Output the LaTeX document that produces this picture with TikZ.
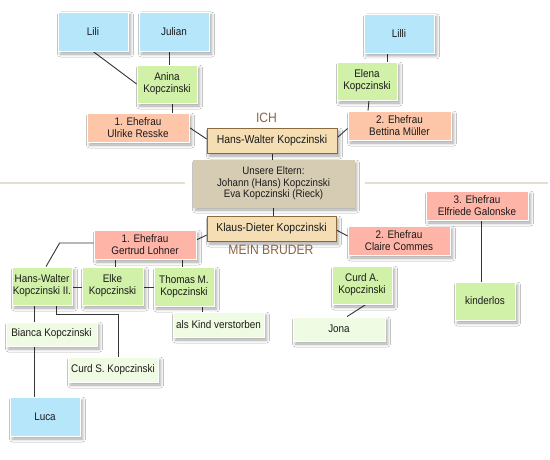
\documentclass[tikz,border=0pt]{standalone}
\usepackage{fontspec}
\setmainfont{Liberation Sans}[FakeStretch=0.9]
\usetikzlibrary{shadows.blur,calc}
\definecolor{kidblue}{HTML}{B5E6FA}
\definecolor{kidgreen}{HTML}{D1F0A8}
\definecolor{palegreen}{HTML}{F0FBE3}
\definecolor{wifea}{HTML}{FDC6A8}
\definecolor{wifeb}{HTML}{FFB4A8}
\definecolor{wheatc}{HTML}{F5DEB3}
\definecolor{wheatb}{HTML}{8B6B3D}
\definecolor{parentc}{HTML}{D6CCB4}
\definecolor{lblc}{HTML}{8B6446}
\definecolor{sepc}{HTML}{E4DED2}
\definecolor{txt}{HTML}{1A1A1A}
\definecolor{linec}{HTML}{353535}
\pgfdeclarelayer{background}
\pgfsetlayers{background,main}
\tikzset{
  sz/.style 2 args={minimum width=#1pt, minimum height=#2pt},
  box/.style={draw=white, line width=0.8pt, inner sep=0pt, align=center, text=txt,
    font=\fontsize{11}{11.8}\selectfont,
    blur shadow={shadow xshift=2.5pt, shadow yshift=-3pt, shadow blur radius=3pt, shadow opacity=35}},
  kid/.style={box, fill=kidblue},
  child/.style={box, fill=kidgreen},
  grand/.style={box, fill=palegreen},
  wifeA/.style={box, fill=wifea},
  wifeB/.style={box, fill=wifeb},
  me/.style={box, fill=wheatc, draw=wheatb, font=\fontsize{11.6}{12.5}\selectfont},
  parents/.style={box, fill=parentc, draw=parentc, font=\fontsize{10.8}{11.4}\selectfont},
  lbl/.style={inner sep=0pt, text=lblc, font=\fontsize{13.5}{13.5}\selectfont},
  conn/.style={draw=linec, line width=0.9pt},
  sepline/.style={draw=sepc, line width=2pt}
}
\begin{document}
\begin{tikzpicture}[x=1pt,y=-1pt]
\useasboundingbox (0,0) rectangle (550,460);
% top left
\node[kid, sz={70}{39}] (lili) at (93,31.5) {Lili};
\node[kid, sz={70}{39}] (julian) at (174,31.5) {Julian};
\node[child, sz={60}{38}] (anina) at (167,84) {Anina\\Kopczinski};
\node[wifeA, sz={102}{29}] (ulrike) at (138,127.5) {1. Ehefrau\\Ulrike Resske};
% top right
\node[kid, sz={70}{39}] (lilli) at (399,33.5) {Lilli};
\node[child, sz={60}{38}] (elena) at (367,81) {Elena\\Kopczinski};
\node[wifeA, sz={103}{29}] (bettina) at (399.5,125.5) {2. Ehefrau\\Bettina Müller};
% center
\node[lbl] (ich) at (266.5,117.7) {ICH};
\node[me, sz={130}{25}] (hw) at (272,140.5) {Hans-Walter Kopczinski};
\node[parents, sz={161}{47}] (eltern) at (273.5,183.5) {Unsere Eltern:\\Johann (Hans) Kopczinski\\Eva Kopczinski (Rieck)};
\node[me, sz={129}{25}] (klaus) at (271.5,228.5) {Klaus-Dieter Kopczinski};
\node[lbl] (bruder) at (271,250.3) {MEIN BRUDER};
% bottom left
\node[wifeB, sz={102}{29}] (gertrud) at (145,244.5) {1. Ehefrau\\Gertrud Lohner};
\node[child, sz={60}{38}] (hw2) at (42,286) {Hans-Walter\\Kopczinski II.};
\node[child, sz={61}{38}] (elke) at (112.5,286) {Elke\\Kopczinski};
\node[child, sz={60}{39}] (thomas) at (184,286.5) {Thomas M.\\Kopczinski};
\node[grand, sz={91}{24}] (bianca) at (51.5,334) {Bianca Kopczinski};
\node[grand, sz={90}{25}] (curds) at (113,369.5) {Curd S. Kopczinski};
\node[grand, sz={91}{25}] (alskind) at (218.5,324.5) {als Kind verstorben};
\node[kid, sz={70}{39}] (luca) at (45,416.5) {Luca};
% bottom right
\node[wifeB, sz={102}{29}] (claire) at (399,240.5) {2. Ehefrau\\Claire Commes};
\node[wifeB, sz={102}{29}] (elfriede) at (477,205.5) {3. Ehefrau\\Elfriede Galonske};
\node[child, sz={60}{38}] (curda) at (362,285) {Curd A.\\Kopczinski};
\node[child, sz={60}{38}] (kinderlos) at (485,301) {kinderlos};
\node[grand, sz={92}{24}] (jona) at (339,329) {Jona};
\begin{pgfonlayer}{background}
  \fill[white] (0,0) rectangle (550,460);
  \path[sepline] (0,183) -- (185,183);
  \path[sepline] (365,183) -- (548,183);
  \path[conn] (lili.south) -- (anina.west);
  \path[conn] ([xshift=2pt]anina.north) -- ([xshift=2pt]anina.north |- julian.south);
  \path[conn] ([xshift=5pt]anina.south) -- ([xshift=5pt]anina.south |- ulrike.north);
  \path[conn] (ulrike.east) -- ([yshift=1.5pt]hw.west);
  \path[conn] ([xshift=-12pt]lilli.south) -- ([xshift=-12pt]lilli.south |- elena.north);
  \path[conn] ([xshift=2pt]elena.south) -- ([xshift=1pt]elena.south |- bettina.north);
  \path[conn] ([yshift=3pt]hw.east) -- ([yshift=-3pt]bettina.west);
  \path[conn] (hw.south) -- (hw.south |- eltern.north);
  \path[conn] (eltern.south) -- (eltern.south |- klaus.north);
  \path[conn] ([yshift=-6.5pt]klaus.west) -- ([yshift=4.5pt]gertrud.east);
  \path[conn] ([yshift=-1.5pt]klaus.east) -- ([yshift=4.5pt]claire.west);
  \path[conn] ([yshift=1.5pt]gertrud.west) -- ++(-34,0) -- ([xshift=4pt]hw2.north);
  \path[conn] ([xshift=-30pt]gertrud.south) -- ([xshift=-30pt]gertrud.south |- elke.north);
  \path[conn] ([xshift=37pt]gertrud.south) -- ([xshift=37pt]gertrud.south |- thomas.north);
  \path[conn] ([yshift=-1pt]hw2.east) -- ([yshift=-1pt]elke.west);
  \path[conn] ([yshift=-1pt]elke.east) -- ([yshift=-1pt]elke.east -| thomas.west);
  \path[conn] ([xshift=-8pt]hw2.south) -- ([xshift=-8pt]hw2.south |- bianca.north);
  \path[conn] ([xshift=14pt]hw2.south) -- ++(0,9) -| ([xshift=5pt]curds.north);
  \path[conn] ([xshift=18pt]thomas.south) -- ([xshift=18pt]thomas.south |- alskind.north);
  \path[conn] ([xshift=-17.5pt]bianca.south) -- ([xshift=-17.5pt]bianca.south |- luca.north);
  \path[conn] ([xshift=4pt]curda.south) -- ([xshift=8pt]jona.north);
  \path[conn] ([xshift=4pt]elfriede.south) -- ([xshift=4pt]elfriede.south |- kinderlos.north);
\end{pgfonlayer}
\end{tikzpicture}
\end{document}
